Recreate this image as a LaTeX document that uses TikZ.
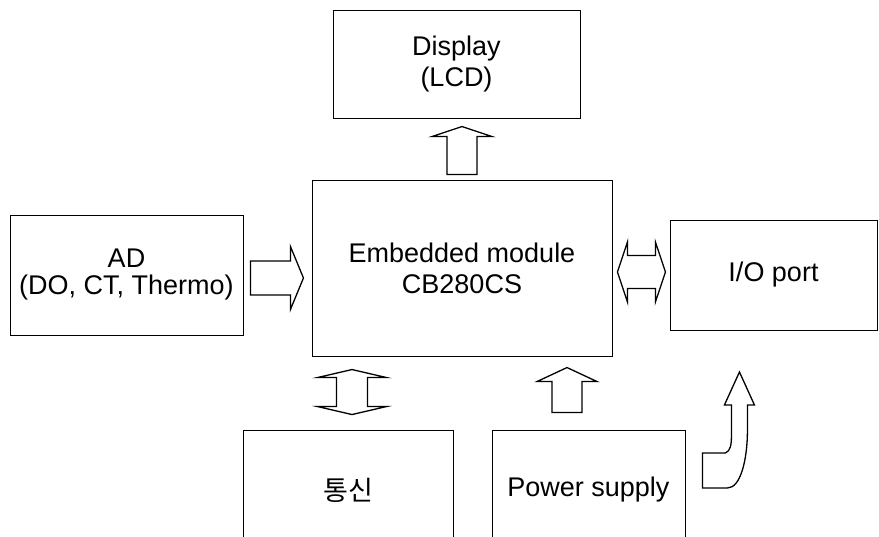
\documentclass[tikz,border=0pt]{standalone}
\usepackage{fontspec}
\setmainfont{Liberation Sans}
\newfontfamily\krfont{Noto Sans CJK KR}
\usetikzlibrary{calc}

\tikzset{
  blk/.style={draw, line width=0.9pt, inner sep=0pt, align=center,
    font=\fontsize{27}{31}\selectfont},
  fat/.style={draw, line width=1.3pt, line join=miter, fill=white},
  arrlen/.store in=\arrlen, arrheadlen/.store in=\arrheadlen,
  arrshaft/.store in=\arrshaft, arrhead/.store in=\arrhead,
  sarrow/.pic={
    \draw[fat] (0,-\arrshaft) -- ({\arrlen-\arrheadlen},-\arrshaft)
      -- ({\arrlen-\arrheadlen},-\arrhead) -- (\arrlen,0)
      -- ({\arrlen-\arrheadlen},\arrhead) -- ({\arrlen-\arrheadlen},\arrshaft)
      -- (0,\arrshaft) -- cycle;
  },
  darrow/.pic={
    \draw[fat] (0,0) -- (\arrheadlen,-\arrhead) -- (\arrheadlen,-\arrshaft)
      -- ({\arrlen-\arrheadlen},-\arrshaft) -- ({\arrlen-\arrheadlen},-\arrhead)
      -- (\arrlen,0) -- ({\arrlen-\arrheadlen},\arrhead)
      -- ({\arrlen-\arrheadlen},\arrshaft) -- (\arrheadlen,\arrshaft)
      -- (\arrheadlen,\arrhead) -- cycle;
  },
}

\begin{document}
\begin{tikzpicture}[x=1pt, y=-1pt]
\useasboundingbox (0,0) rectangle (879,537);
\clip (0,0) rectangle (879,537);

% blocks
\node[blk, minimum width=247, minimum height=108] (disp) at (456.5,64) {Display\\(LCD)};
\node[blk, minimum width=300, minimum height=176] (emb) at (462,268) {Embedded module\\CB280CS};
\node[blk, minimum width=233, minimum height=120] (ad) at (126.5,275) {AD\\[-4pt](DO, CT, Thermo)};
\node[blk, minimum width=207, minimum height=110] (io) at (773.5,275) {I/O port};
\node[blk, minimum width=210, minimum height=120] (com) at (348,490) {\krfont 통신};
\node[blk, minimum width=193, minimum height=120] (pow) at (588.5,490) {Power supply};

% arrows
\pic[arrlen=53, arrheadlen=13, arrshaft=17, arrhead=31.5] at ($(ad.east)+(7,3)$) {sarrow};
\pic[rotate=90, arrlen=48, arrheadlen=10, arrshaft=15, arrhead=30] at ($(emb.north)+(0,-5)$) {sarrow};
\pic[rotate=90, arrlen=45, arrheadlen=14, arrshaft=15, arrhead=30] at ($(pow.north)+(-21.5,-17)$) {sarrow};
\pic[arrlen=48, arrheadlen=10, arrshaft=16.5, arrhead=30] at ($(emb.east)+(5,4)$) {darrow};
\pic[rotate=90, arrlen=45, arrheadlen=8, arrshaft=15.5, arrhead=34.5] at ($(com.north)+(4,-15)$) {darrow};

% bent arrow from power supply
\draw[fat, shift={(pow.east)}] (17,-37) -- (40,-37)
  .. controls (45,-39) and (46,-45) .. (46,-55) -- (46,-85) -- (39,-85)
  -- (54,-118) -- (69,-85) -- (62,-85) -- (62,-60)
  .. controls (62,-30) and (55,-2) .. (42,-2) -- (17,-2) -- cycle;
\end{tikzpicture}
\end{document}
